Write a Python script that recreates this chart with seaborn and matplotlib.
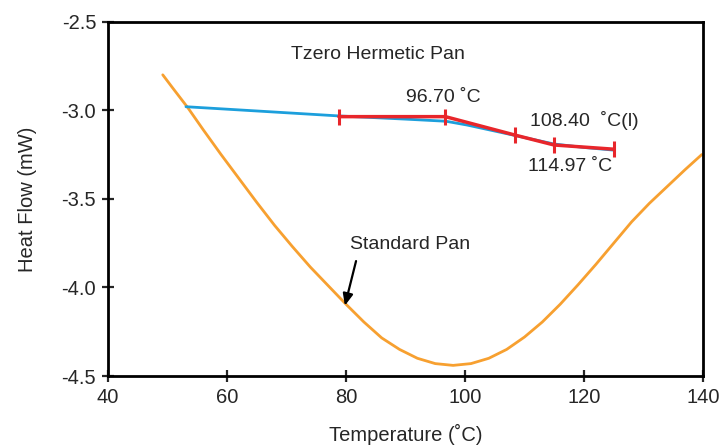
import matplotlib
matplotlib.use("Agg")
import matplotlib.pyplot as plt
import seaborn as sns
import pandas as pd

# ============================================
# DATA
# ============================================

standard_temp = [49.2, 51.0, 53.4, 56.0, 59.0, 62.0, 65.0, 68.0, 71.0, 74.0, 77.0,
                 80.0, 83.0, 86.0, 89.0, 92.0, 95.0, 98.0, 101.0, 104.0, 107.0,
                 110.0, 113.0, 116.0, 119.0, 122.0, 125.0, 128.0, 131.0, 134.0,
                 137.0, 139.8]
standard_flow = [-2.80, -2.88, -2.985, -3.11, -3.25, -3.385, -3.52, -3.65, -3.77, -3.885, -3.99,
                 -4.095, -4.195, -4.285, -4.35, -4.40, -4.43, -4.44, -4.43, -4.40, -4.35,
                 -4.28, -4.195, -4.095, -3.985, -3.87, -3.75, -3.63, -3.525, -3.43,
                 -3.335, -3.25]

tzero_temp = [53.1, 65.0, 78.8, 90.0, 96.8, 100.3, 104.0, 108.1, 111.5, 114.9, 120.0, 125.0]
tzero_flow = [-2.98, -3.004, -3.032, -3.05, -3.062, -3.083, -3.11, -3.14, -3.165, -3.19, -3.21, -3.225]

step_temp = [78.8, 96.7, 108.4, 114.97, 125.1]
step_flow = [-3.036, -3.036, -3.14, -3.196, -3.22]

x_ticks = [40, 60, 80, 100, 120, 140]
y_ticks = [-4.5, -4.0, -3.5, -3.0, -2.5]

# ============================================
# STYLE
# ============================================

sns.set_style("ticks")
plt.rcParams["font.family"] = ["Liberation Sans", "DejaVu Sans"]

orange = "#F7A030"
blue = "#1C9FDC"
red = "#E8262B"

fig = plt.figure(figsize=(7.26, 4.48), dpi=100)
ax = fig.add_axes([0.1488, 0.1607, 0.8195, 0.7909])

std_df = pd.DataFrame({"temp": standard_temp, "flow": standard_flow})
tz_df = pd.DataFrame({"temp": tzero_temp, "flow": tzero_flow})
step_df = pd.DataFrame({"temp": step_temp, "flow": step_flow})

sns.lineplot(data=std_df, x="temp", y="flow", ax=ax, color=orange, lw=2,
             sort=False, estimator=None)
sns.lineplot(data=tz_df, x="temp", y="flow", ax=ax, color=blue, lw=2,
             sort=False, estimator=None)
sns.lineplot(data=step_df, x="temp", y="flow", ax=ax, color=red, lw=2.5,
             sort=False, estimator=None, marker="|", markersize=11,
             markeredgewidth=2.2, markeredgecolor=red)

ax.set_xlim(40, 140)
ax.set_ylim(-4.5, -2.5)
ax.set_xticks(x_ticks)
ax.set_yticks(y_ticks)
ax.set_yticklabels([f"{v:.1f}" for v in y_ticks])

for s in ax.spines.values():
    s.set_linewidth(2)
    s.set_color("black")
ax.tick_params(direction="inout", length=9, width=1.6, labelsize=14.5, pad=4)

ax.set_xlabel("Temperature (˚C)", fontsize=14.5, labelpad=12)
ax.set_ylabel("Heat Flow (mW)", fontsize=14.5, labelpad=18)

# annotations
ax.text(85.4, -2.688, "Tzero Hermetic Pan", fontsize=14, ha="center", va="center")
ax.text(96.3, -2.928, "96.70 ˚C", fontsize=14, ha="center", va="center")
ax.text(120.0, -3.06, "108.40  ˚C(l)", fontsize=14, ha="center", va="center")
ax.text(117.6, -3.32, "114.97 ˚C", fontsize=14, ha="center", va="center")
ax.text(90.8, -3.76, "Standard Pan", fontsize=14, ha="center", va="center")
ax.annotate("", xy=(79.7, -4.118), xytext=(81.8, -3.836),
            arrowprops=dict(arrowstyle="-|>,head_length=0.7,head_width=0.3",
                            color="black", lw=1.6))

plt.savefig("out.png", dpi=100)
